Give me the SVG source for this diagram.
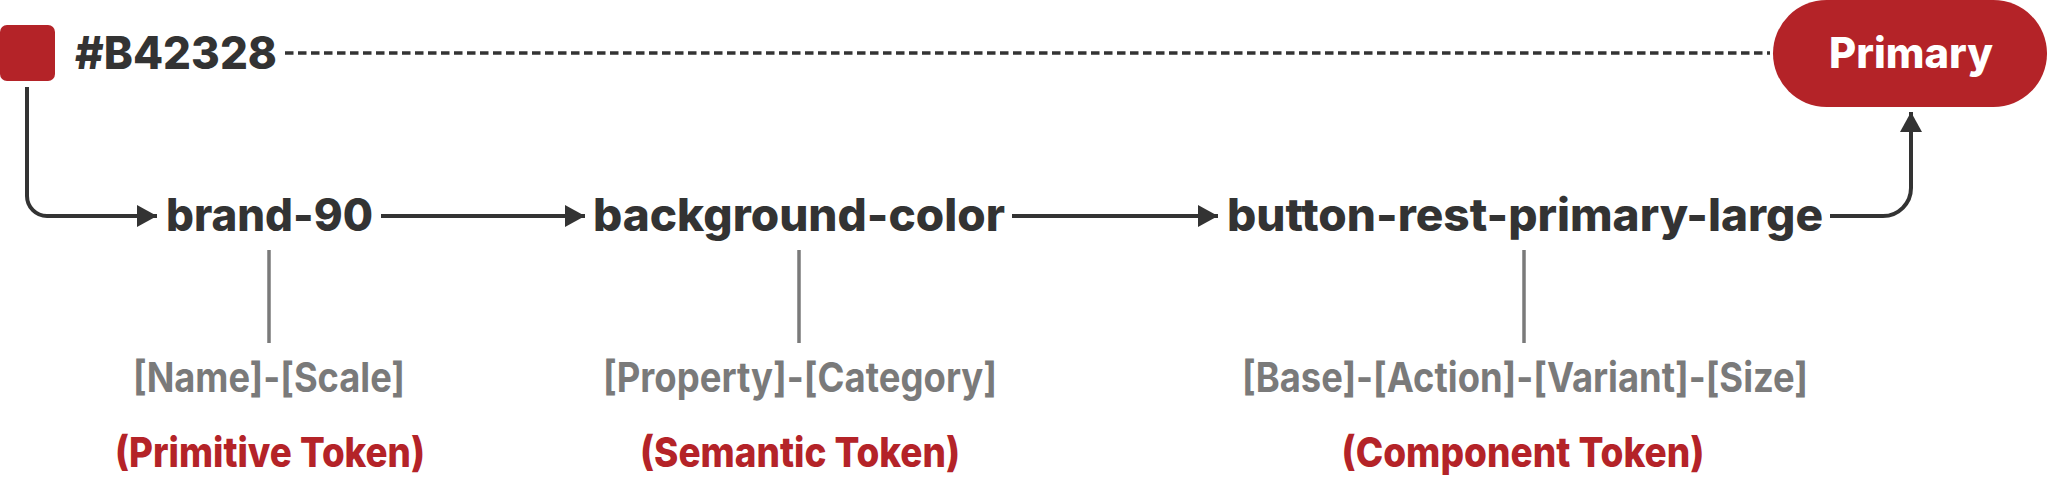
<svg xmlns="http://www.w3.org/2000/svg" width="2048" height="482" viewBox="0 0 2048 482">
<style>
.tok{font-family:Inter,"Open Sans","Liberation Sans",sans-serif;font-weight:800;font-size:45px;fill:#333333}
.pat{font-family:Inter,"Open Sans","Liberation Sans",sans-serif;font-weight:700;font-size:41px;fill:#7a7a7a;text-anchor:middle}
.kind{font-family:Inter,"Open Sans","Liberation Sans",sans-serif;font-weight:800;font-size:41px;fill:#B42328;text-anchor:middle}
.btn{font-family:Inter,"Open Sans","Liberation Sans",sans-serif;font-weight:800;font-size:42px;fill:#ffffff;text-anchor:middle}
.conn{fill:none;stroke:#333333;stroke-width:4}
.dash{fill:none;stroke:#333333;stroke-width:3.5;stroke-dasharray:8.5 4.5}
.bar{stroke:#7a7a7a;stroke-width:3.5}
</style>
<defs>
<marker id="arr" markerUnits="userSpaceOnUse" markerWidth="22" markerHeight="24" refX="20" refY="11" orient="auto" viewBox="0 0 22 24">
<path d="M0,0 L20,11 L0,22 z" fill="#333333"/>
</marker>
</defs>
<g id="connectors">
<path class="dash" d="M285,53 H1770"/>
<path class="conn" d="M27,87 V196 A20,20 0 0 0 47,216 H157" marker-end="url(#arr)"/>
<path class="conn" d="M381,216 H585" marker-end="url(#arr)"/>
<path class="conn" d="M1012,216 H1218" marker-end="url(#arr)"/>
<path class="conn" d="M1830,216 H1883 A28,28 0 0 0 1911,188 V112" marker-end="url(#arr)"/>
<line class="bar" x1="269" y1="250" x2="269" y2="343"/>
<line class="bar" x1="799" y1="250" x2="799" y2="343"/>
<line class="bar" x1="1524" y1="250" x2="1524" y2="343"/>
</g>
<g id="hex">
<rect x="0" y="25" width="55" height="56" rx="7" fill="#B42328"/>
<text class="tok" x="75" y="69" textLength="202" lengthAdjust="spacingAndGlyphs">#B42328</text>
</g>
<g id="primary">
<rect x="1773" y="0" width="274" height="107" rx="53.5" fill="#B42328"/>
<text class="btn" x="1911" y="68" textLength="164" lengthAdjust="spacingAndGlyphs">Primary</text>
</g>
<g id="primitive">
<text class="tok" x="166" y="231" textLength="207" lengthAdjust="spacingAndGlyphs">brand-90</text>
<text class="pat" x="269" y="392" textLength="272" lengthAdjust="spacingAndGlyphs">[Name]-[Scale]</text>
<text class="kind" x="270" y="467" textLength="310" lengthAdjust="spacingAndGlyphs">(Primitive Token)</text>
</g>
<g id="semantic">
<text class="tok" x="593" y="231" textLength="412" lengthAdjust="spacingAndGlyphs">background-color</text>
<text class="pat" x="800" y="392" textLength="394" lengthAdjust="spacingAndGlyphs">[Property]-[Category]</text>
<text class="kind" x="800" y="467" textLength="320" lengthAdjust="spacingAndGlyphs">(Semantic Token)</text>
</g>
<g id="component">
<text class="tok" x="1227" y="231" textLength="596" lengthAdjust="spacingAndGlyphs">button-rest-primary-large</text>
<text class="pat" x="1525" y="392" textLength="566" lengthAdjust="spacingAndGlyphs">[Base]-[Action]-[Variant]-[Size]</text>
<text class="kind" x="1523" y="467" textLength="363" lengthAdjust="spacingAndGlyphs">(Component Token)</text>
</g>
</svg>
